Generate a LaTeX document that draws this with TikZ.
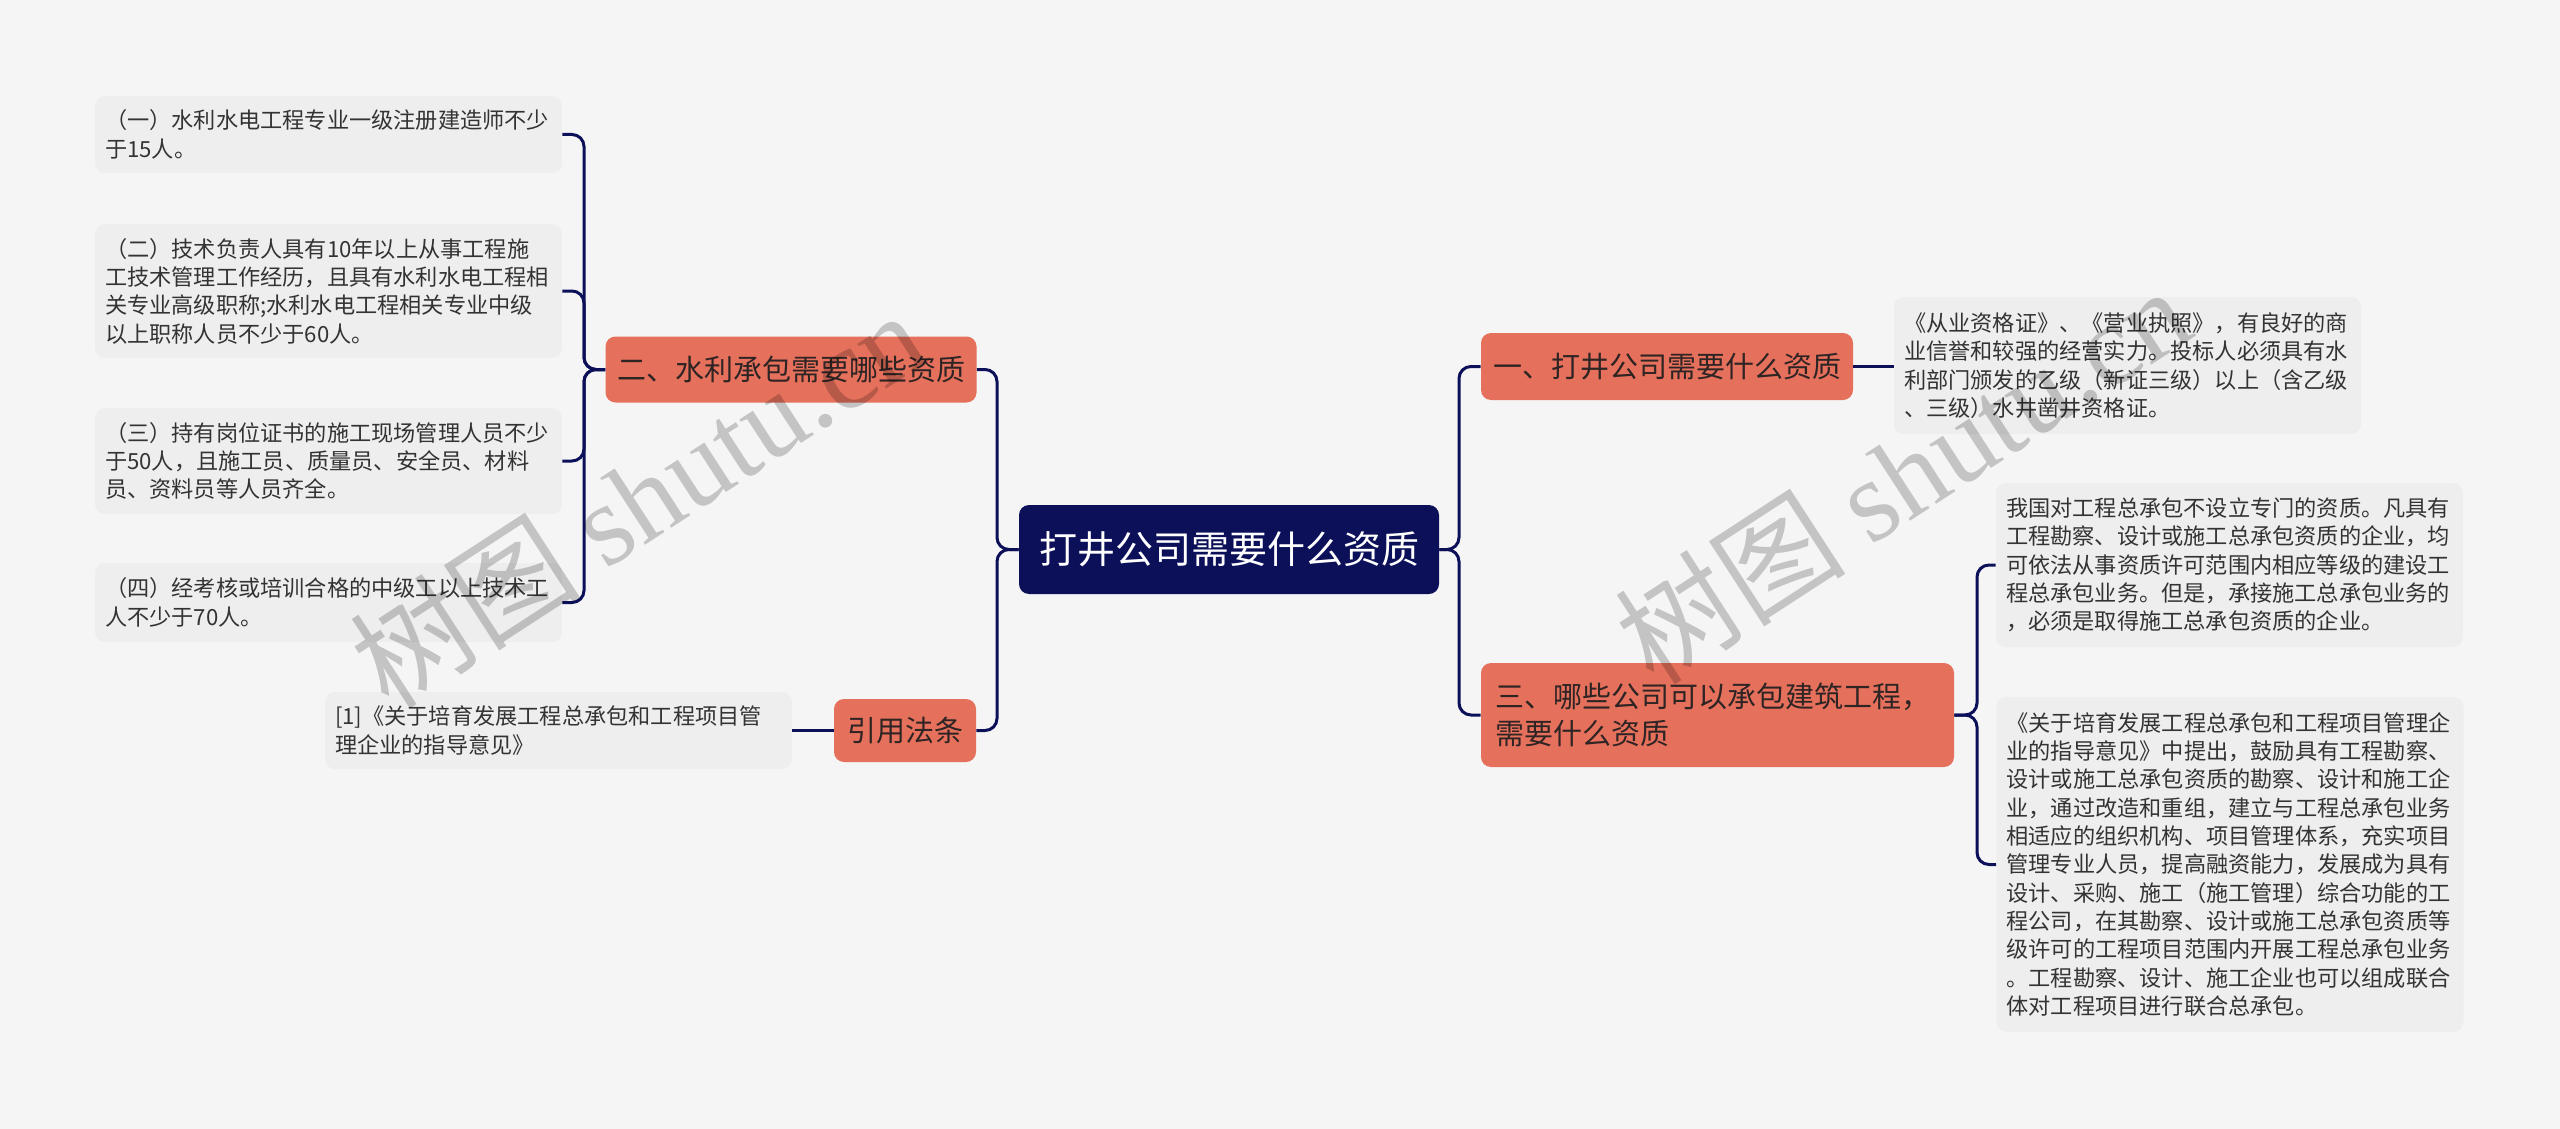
\documentclass[tikz,border=0pt]{standalone}
\usepackage{fontspec}
\setmainfont{Noto Sans CJK SC}
\newfontfamily\wmserif{Liberation Serif}
\definecolor{bgc}{HTML}{F5F5F5}
\definecolor{leaffill}{HTML}{EEEEEE}
\definecolor{navyc}{HTML}{0C1059}
\definecolor{orangec}{HTML}{E5705B}
\definecolor{textc}{HTML}{333333}
\definecolor{btext}{HTML}{2E2424}
\tikzset{
  conn/.style={draw=navyc, line width=1.5pt, rounded corners=6pt},
  leafbox/.style={rectangle, rounded corners=5pt, fill=leaffill, text=textc,
    font=\fontsize{11.1pt}{14.17pt}\selectfont, align=left,
    inner xsep=5pt, inner ysep=0pt, text width=223.5pt},
  branchbox/.style={rectangle, rounded corners=5pt, fill=orangec, text=btext,
    font=\fontsize{14.5pt}{18.75pt}\selectfont, inner sep=0pt, align=center},
  rootbox/.style={rectangle, rounded corners=5pt, fill=navyc, text=white,
    font=\fontsize{19pt}{22pt}\selectfont, inner sep=0pt,
    minimum width=210pt, minimum height=44.5pt},
  wmark/.style={rotate=33, text=black, text opacity=0.2,
    font=\fontsize{58pt}{58pt}\selectfont, inner sep=0pt}
}
\begin{document}
\begin{tikzpicture}[x=0.5pt,y=-0.5pt]
\useasboundingbox (0,0) rectangle (2560,1129);
\fill[bgc] (0,0) rectangle (2560,1129);

% root
\node[rootbox] (root) at (1229,549.5) {打井公司需要什么资质};

% branches
\node[branchbox, minimum width=185.5pt, minimum height=33pt] (b2) at (791,369.5) {二、水利承包需要哪些资质};
\node[branchbox, minimum width=71pt, minimum height=31.5pt] (cite) at (905,730.5) {引用法条};
\node[branchbox, minimum width=186pt, minimum height=33.5pt] (b1) at (1667,366.5) {一、打井公司需要什么资质};
\node[branchbox, minimum height=52pt, text width=222.5pt, inner xsep=7pt, align=left] (b3) at (1717.5,715) {三、哪些公司可以承包建筑工程，\\需要什么资质};

% left leaves
\node[leafbox, minimum height=38.5pt] (l1) at (328.5,134.5) {（一）水利水电工程专业一级注册建造师不少\\于15人。};
\node[leafbox, minimum height=67pt] (l2) at (328.5,291) {（二）技术负责人具有10年以上从事工程施\\工技术管理工作经历，且具有水利水电工程相\\关专业高级职称;水利水电工程相关专业中级\\以上职称人员不少于60人。};
\node[leafbox, minimum height=53pt] (l3) at (328.5,461) {（三）持有岗位证书的施工现场管理人员不少\\于50人，且施工员、质量员、安全员、材料\\员、资料员等人员齐全。};
\node[leafbox, minimum height=39.5pt] (l4) at (328.5,602.5) {（四）经考核或培训合格的中级工以上技术工\\人不少于70人。};
\node[leafbox, minimum height=38.5pt] (cl) at (558.5,730.5) {[1]《关于培育发展工程总承包和工程项目管\\理企业的指导意见》};

% right leaves
\node[leafbox, minimum height=68.5pt] (r1) at (2127.5,365.5) {《从业资格证》、《营业执照》，有良好的商\\业信誉和较强的经营实力。投标人必须具有水\\利部门颁发的乙级（新证三级）以上（含乙级\\、三级）水井凿井资格证。};
\node[leafbox, minimum height=82pt] (r2) at (2229.5,565) {我国对工程总承包不设立专门的资质。凡具有\\工程勘察、设计或施工总承包资质的企业，均\\可依法从事资质许可范围内相应等级的建设工\\程总承包业务。但是，承接施工总承包业务的\\，必须是取得施工总承包资质的企业。};
\node[leafbox, minimum height=167.5pt] (r3) at (2230,864.5) {《关于培育发展工程总承包和工程项目管理企\\业的指导意见》中提出，鼓励具有工程勘察、\\设计或施工总承包资质的勘察、设计和施工企\\业，通过改造和重组，建立与工程总承包业务\\相适应的组织机构、项目管理体系，充实项目\\管理专业人员，提高融资能力，发展成为具有\\设计、采购、施工（施工管理）综合功能的工\\程公司，在其勘察、设计或施工总承包资质等\\级许可的工程项目范围内开展工程总承包业务\\。工程勘察、设计、施工企业也可以组成联合\\体对工程项目进行联合总承包。};

% connectors: root to branches
\draw[conn] (root.west) -- (997,549.5) |- (b2.east);
\draw[conn] (root.west) -- (997,549.5) |- (cite.east);
\draw[conn] (root.east) -- (1459,549.5) |- (b1.west);
\draw[conn] (root.east) -- (1459,549.5) |- (b3.west);

% b2 bracket
\draw[conn] (b2.west) -- (584,369.5) |- (l1.east);
\draw[conn] (b2.west) -- (584,369.5) |- (l2.east);
\draw[conn] (b2.west) -- (584,369.5) |- (l3.east);
\draw[conn] (b2.west) -- (584,369.5) |- (l4.east);

% cite
\draw[conn] (cite.west) -- (cite.west -| cl.east);

% b1
\draw[conn] (b1.east) -- (b1.east -| r1.west);

% b3 bracket
\draw[conn] (b3.east) -- (1977,715) |- (r2.west);
\draw[conn] (b3.east) -- (1977,715) |- (r3.west);

% watermarks
\node[wmark] (wm1) at (637,498) {树图 {\wmserif shutu.cn}};
\node[wmark] (wm2) at (1902,474) {树图 {\wmserif shutu.cn}};
\end{tikzpicture}
\end{document}
